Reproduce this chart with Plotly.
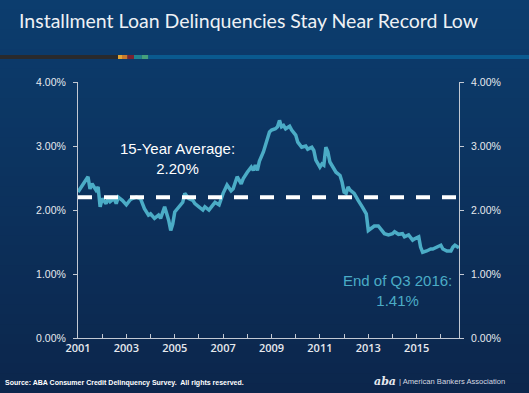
import plotly.graph_objects as go

# ---------------- data ----------------
dates = [
    "2001-01", "2001-06", "2001-07", "2001-08", "2001-10", "2001-11", "2001-12",
    "2002-01", "2002-03", "2002-04", "2002-05", "2002-07", "2002-08", "2002-09", "2002-11",
    "2003-01", "2003-03", "2003-04", "2003-06", "2003-08", "2003-10", "2003-12",
    "2004-01", "2004-03", "2004-05", "2004-06", "2004-08", "2004-09", "2004-10", "2004-11", "2004-12",
    "2005-01", "2005-03", "2005-05", "2005-06", "2005-08", "2005-10", "2005-11",
    "2006-01", "2006-03", "2006-04", "2006-06", "2006-08", "2006-09", "2006-11",
    "2007-01", "2007-03", "2007-05", "2007-06", "2007-08", "2007-10", "2007-11",
    "2008-01", "2008-03", "2008-04", "2008-05", "2008-06", "2008-07", "2008-09", "2008-11", "2008-12",
    "2009-01", "2009-03", "2009-04", "2009-05", "2009-06", "2009-07", "2009-08", "2009-10", "2009-11",
    "2010-01", "2010-02", "2010-04", "2010-06", "2010-07", "2010-09", "2010-10", "2010-11",
    "2011-01", "2011-02", "2011-03", "2011-04", "2011-05", "2011-06", "2011-08", "2011-09", "2011-11", "2011-12",
    "2012-01", "2012-02", "2012-03", "2012-04", "2012-06", "2012-07", "2012-08", "2012-10", "2012-11", "2012-12",
    "2013-01", "2013-03", "2013-04", "2013-06", "2013-08", "2013-09", "2013-11",
    "2014-01", "2014-02", "2014-04", "2014-06", "2014-07", "2014-09", "2014-11", "2014-12",
    "2015-02", "2015-03", "2015-04", "2015-06", "2015-08", "2015-09", "2015-11",
    "2016-01", "2016-02", "2016-04", "2016-06", "2016-07", "2016-08", "2016-09-30",
]
delinquency_rate = [
    2.28, 2.52, 2.33, 2.41, 2.31, 2.36, 2.05,
    2.18, 2.10, 2.18, 2.13, 2.18, 2.10, 2.20, 2.15,
    2.08, 2.16, 2.18, 2.20, 2.18, 2.02, 1.92,
    1.94, 1.87, 1.92, 1.87, 2.05, 1.95, 1.84, 1.68, 1.78,
    1.97, 2.05, 2.12, 2.26, 2.18, 2.15, 2.10,
    2.05, 2.00, 2.05, 2.00, 2.08, 2.12, 2.08,
    2.26, 2.39, 2.30, 2.33, 2.52, 2.41, 2.49,
    2.59, 2.67, 2.62, 2.70, 2.62, 2.76, 2.91, 3.12, 3.22,
    3.25, 3.27, 3.30, 3.40, 3.30, 3.32, 3.27, 3.31, 3.25,
    3.17, 3.06, 2.98, 3.00, 2.95, 2.98, 2.93, 2.78,
    2.67, 2.72, 2.70, 2.98, 2.91, 2.75, 2.65, 2.59, 2.54, 2.44,
    2.28, 2.26, 2.36, 2.31, 2.26, 2.20, 2.15, 2.05, 2.00, 1.94,
    1.68, 1.73, 1.75, 1.75, 1.68, 1.63, 1.61,
    1.63, 1.66, 1.62, 1.63, 1.58, 1.61, 1.53, 1.55,
    1.58, 1.42, 1.34, 1.36, 1.39, 1.39, 1.42,
    1.45, 1.39, 1.36, 1.36, 1.42, 1.45, 1.41,
]
average_rate = 2.20
x_range = ["2001-01-01", "2016-10-01"]
y_range = [0, 4]
y_ticks = [0, 1, 2, 3, 4]
y_tick_labels = ["0.00%", "1.00%", "2.00%", "3.00%", "4.00%"]

title_text = "Installment Loan Delinquencies Stay Near Record Low"
avg_label = "15-Year Average:<br>2.20%"
end_label = "End of Q3 2016:<br>1.41%"
source_text = "Source: ABA Consumer Credit Delinquency Survey.  All rights reserved."
logo_text = "| American Bankers Association"

# ---------------- layout geometry ----------------
W, H = 529, 393
ML, MR, MT, MB = 78, 70, 82, 55
PW, PH = W - ML - MR, H - MT - MB


def px_to_py(ypx):
    return (H - MB - ypx) / PH


def px_to_px(xpx):
    return (xpx - ML) / PW


LINE_BLUE = "#4bacc6"
AXIS_COL = "#c3c9d3"
TXT_COL = "#e6e9ee"
BG_MID = "rgb(12,50,94)"

fig = go.Figure()

fig.add_trace(go.Scatter(
    x=dates, y=delinquency_rate, mode="lines",
    line=dict(color=LINE_BLUE, width=3.5),
    hoverinfo="skip", showlegend=False,
))
fig.add_trace(go.Scatter(
    x=x_range, y=[average_rate, average_rate], mode="lines",
    line=dict(color="white", width=4, dash="14px,12px"),
    hoverinfo="skip", showlegend=False,
))
# invisible trace for the right-hand axis
fig.add_trace(go.Scatter(
    x=x_range, y=[average_rate, average_rate], yaxis="y2", mode="lines",
    line=dict(color="rgba(0,0,0,0)", width=0), hoverinfo="skip", showlegend=False,
))

# ---------------- background gradient (bands) ----------------
shapes = []
n = 40
top = (12, 61, 110)
bot = (12, 38, 76)
for i in range(n):
    t = i / (n - 1)
    c = tuple(round(top[k] + (bot[k] - top[k]) * t) for k in range(3))
    y0px = H * i / n
    y1px = H * (i + 1) / n + 1
    shapes.append(dict(
        type="rect", xref="paper", yref="paper", layer="below",
        x0=-1, x1=2, y0=px_to_py(y1px), y1=px_to_py(y0px),
        fillcolor="rgb(%d,%d,%d)" % c, line=dict(width=0),
    ))

# coloured stripe under the title
stripe = [
    (0, 118, "#2a2a2c"), (118, 122, "#e2a534"), (122, 127.5, "#c97a2c"),
    (127.5, 134, "#7c2231"), (134, 141.7, "#1f8391"), (141.7, 148.4, "#45a07c"),
    (148.4, 529, "#0a5a8f"),
]
for x0, x1, col in stripe:
    shapes.append(dict(
        type="rect", xref="paper", yref="paper", layer="below",
        x0=px_to_px(x0), x1=px_to_px(x1), y0=px_to_py(59), y1=px_to_py(55),
        fillcolor=col, line=dict(width=0),
    ))

annotations = [
    dict(text=title_text, x=px_to_px(17), y=px_to_py(20), xref="paper", yref="paper",
         showarrow=False, font=dict(family="Lato", size=19.5, color="#eef1f5"),
         xanchor="left", yanchor="middle"),
    dict(text=avg_label, x="2005-02-05", y=2.80, xref="x", yref="y",
         showarrow=False, font=dict(family="Liberation Sans, Arial", size=15, color="white"),
         xanchor="center", yanchor="middle", align="center"),
    dict(text=end_label, x="2014-03-10", y=0.745, xref="x", yref="y",
         showarrow=False, font=dict(family="Liberation Sans, Arial", size=15, color=LINE_BLUE),
         xanchor="center", yanchor="middle", align="center"),
    dict(text=source_text, x=px_to_px(3), y=px_to_py(383), xref="paper", yref="paper",
         showarrow=False, font=dict(family="Liberation Sans, Arial", size=7, color="white", weight="bold"),
         xanchor="left", yanchor="middle"),
    dict(text="<i><b>aba</b></i>", x=px_to_px(372), y=px_to_py(381), xref="paper", yref="paper",
         showarrow=False, font=dict(family="DejaVu Serif", size=11, color="#e6e9ee"),
         xanchor="left", yanchor="middle"),
    dict(text=logo_text, x=px_to_px(397), y=px_to_py(381.5), xref="paper", yref="paper",
         showarrow=False, font=dict(family="Liberation Sans, Arial", size=7.6, color="#d5d9e0"),
         xanchor="left", yanchor="middle"),
]

tickfont_y = dict(family="Liberation Sans Narrow, Liberation Sans, Arial", size=10.5, color=TXT_COL)

fig.update_layout(
    width=W, height=H, autosize=False,
    margin=dict(l=ML, r=MR, t=MT, b=MB, pad=0),
    paper_bgcolor=BG_MID, plot_bgcolor="rgba(0,0,0,0)",
    shapes=shapes, annotations=annotations, showlegend=False,
    xaxis=dict(
        type="date", range=x_range, showgrid=False, zeroline=False,
        showline=True, linecolor=AXIS_COL, linewidth=1,
        tick0="2001-01-01", dtick="M24", tickformat="%Y",
        ticks="inside", ticklen=4, tickcolor=AXIS_COL,
        minor=dict(dtick="M12", ticks="inside", ticklen=4, tickcolor=AXIS_COL, showgrid=False),
        tickfont=dict(family="Open Sans", size=11, color=TXT_COL, weight=600),
    ),
    yaxis=dict(
        range=y_range, tickmode="array", tickvals=y_ticks, ticktext=y_tick_labels,
        showgrid=False, zeroline=False, showline=True, linecolor=AXIS_COL, linewidth=1,
        ticks="outside", ticklen=4, tickcolor=AXIS_COL, tickfont=tickfont_y,
        ticklabelstandoff=5,
    ),
    yaxis2=dict(
        range=y_range, tickmode="array", tickvals=y_ticks, ticktext=y_tick_labels,
        overlaying="y", side="right",
        showgrid=False, zeroline=False, showline=True, linecolor=AXIS_COL, linewidth=1,
        ticks="outside", ticklen=4, tickcolor=AXIS_COL, tickfont=tickfont_y,
        ticklabelstandoff=5,
    ),
)

fig.write_html(
    "out.html",
    config={"displayModeBar": False, "staticPlot": True},
    post_script="document.body.style.margin='0';document.body.style.overflow='hidden';"
                "document.body.style.background='rgb(12,50,94)';",
)
